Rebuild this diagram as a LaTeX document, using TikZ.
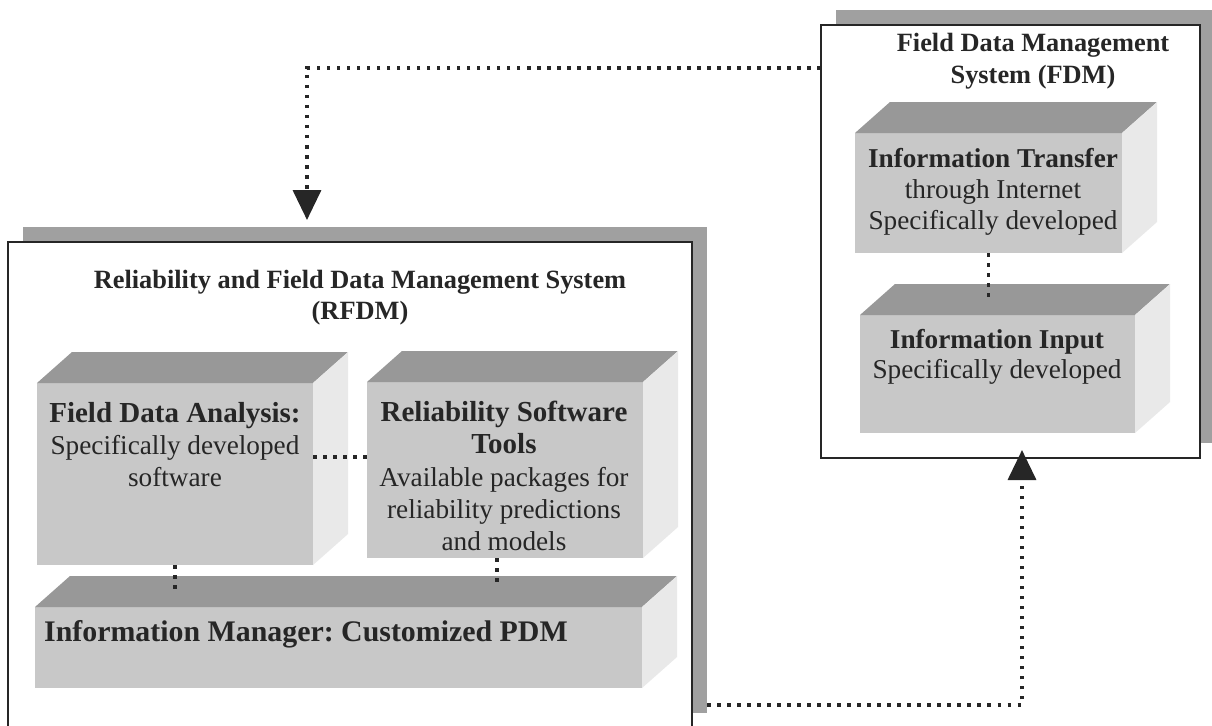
\documentclass[tikz,border=0pt]{standalone}
\usepackage{fontspec}
\setmainfont{Liberation Serif}
\usetikzlibrary{arrows.meta, shadows}

\definecolor{frontgray}{RGB}{200,200,200}
\definecolor{topgray}{RGB}{152,152,152}
\definecolor{sidegray}{RGB}{233,233,233}
\definecolor{shadowgray}{RGB}{160,160,160}

\newcommand{\boxhead}[1]{{\fontsize{16.5}{18.4}\selectfont\bfseries #1}}

\tikzset{
    panel/.style={draw=black!85, line width=0.7pt, fill=white, inner sep=0pt, outer sep=0pt,
        general shadow={fill=shadowgray, shadow xshift=3mm, shadow yshift=3mm}},
    face/.style={fill=frontgray, inner sep=0pt, outer sep=0pt},
    topface/.style={fill=topgray},
    sideface/.style={fill=sidegray},
    boxtext/.style={align=center, text=black!85, font=\fontsize{15.5}{18.4}\selectfont},
    titletext/.style={align=center, text=black!85, font=\fontsize{15}{17.5}\selectfont\bfseries},
    dots/.style={line width=2pt, dash pattern=on 2pt off 3.7pt, black!85},
    link/.style={dots, -{Triangle[width=5.6mm, length=6mm]}},
}

\begin{document}
\frenchspacing
\begin{tikzpicture}[x=0.2mm, y=-0.2mm]
    \useasboundingbox (0,0) rectangle (1212,725);

    % Draw panels
    \node[panel, minimum width=136.8mm, minimum height=97.2mm] (rfdm) at (350,485) {};
    \node[panel, minimum width=75.8mm, minimum height=86.6mm] (fdm) at (1010.5,241.5) {};

    % Titles
    \node[titletext] (rfdmtitle) at (360,298) {Reliability and Field Data Management System\\(RFDM)};
    \node[titletext, font=\fontsize{15}{18}\selectfont\bfseries] (fdmtitle) at (1033,61) {Field Data Management\\System (FDM)};

    % Draw boxes
    \node[face, minimum width=55.2mm, minimum height=36.4mm] (fda) at (175,474) {};
    \node[face, minimum width=55.2mm, minimum height=35.2mm] (rst) at (505,470) {};
    \node[face, minimum width=121.4mm, minimum height=16.2mm] (im) at (338.5,647.5) {};
    \node[face, minimum width=53.4mm, minimum height=24mm] (it) at (988.5,193) {};
    \node[face, minimum width=55mm, minimum height=23.6mm] (ii) at (997.5,374) {};

    \foreach \b in {fda,rst,im,it,ii} {
        \fill[topface] (\b.north west) -- ++(35,-31) -- ([shift={(35,-31)}]\b.north east) -- (\b.north east) -- cycle;
        \fill[sideface] (\b.north east) -- ++(35,-31) -- ([shift={(35,-31)}]\b.south east) -- (\b.south east) -- cycle;
    }

    % Box texts
    \node[boxtext] (fdatext) at (175,444.5) {\boxhead{Field Data Analysis:}\\Specifically developed\\software};
    \node[boxtext] (rsttext) at (504,476) {\boxhead{Reliability Software}\\\boxhead{Tools}\\Available packages for\\reliability predictions\\and models};
    \node[boxtext, anchor=west, font=\fontsize{17}{20}\selectfont\bfseries] (imtext) at ([xshift=0.6mm, yshift=2.6mm]im.west) {Information Manager: Customized PDM};
    \node[boxtext, font=\fontsize{15.5}{17.5}\selectfont] (ittext) at (993,192) {\textbf{Information Transfer}\\through Internet\\Specifically developed};
    \node[boxtext, font=\fontsize{15.5}{17}\selectfont] (iitext) at (997,356.5) {\textbf{Information Input}\\Specifically developed};

    % Draw connections
    \draw[dots] ([yshift=3.4mm]fda.east) -- ([yshift=2.6mm]rst.west);
    \draw[dots] (fda.south) -- ++(0,27);
    \draw[dots] ([xshift=-1.6mm]rst.south) -- ++(0,30);
    \draw[dots] (it.south) -- ++(0,46);
    \draw[link] ([yshift=34.7mm]fdm.west) -| ([xshift=59.8mm, yshift=4.4mm]rfdm.north west);
    \draw[link] ([xshift=3mm, yshift=-44mm]rfdm.east) -| ([xshift=2.3mm, yshift=1.6mm]fdm.south);
\end{tikzpicture}
\end{document}
